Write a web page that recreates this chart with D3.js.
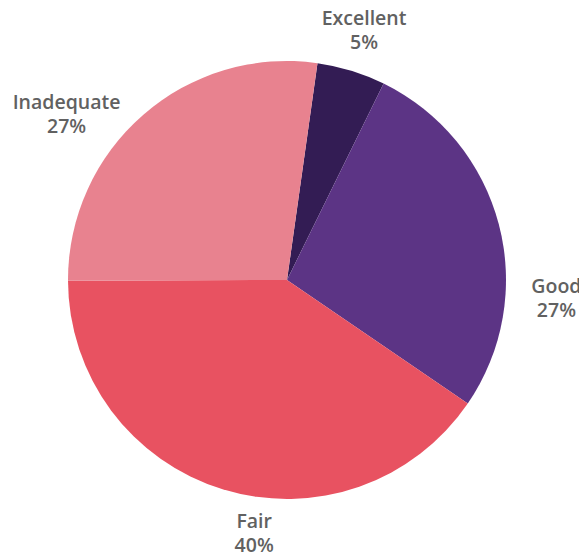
<!DOCTYPE html>
<html><head><meta charset="utf-8">
<script src="https://cdn.jsdelivr.net/npm/d3@7"></script>
<style>body{margin:0;background:#fff}svg{display:block}</style>
</head><body>
<svg id="chart" width="579" height="557"></svg>
<script>
const categories = ["Excellent", "Good", "Fair", "Inadequate"];
const values = [5, 27, 40, 27];
const colors = ["#331c54", "#5c3485", "#e85261", "#e8828f"];
const labelTexts = ["5%", "27%", "40%", "27%"];
// label placement (degrees clockwise from top, radius in px)
const labelAngles = [17.1, 93.8, 187.4, 307];
const labelRadii = [262, 270, 255, 276];

const svg = d3.select("#chart");
const cx = 287, cy = 280, R = 219;
const g = svg.append("g").attr("transform", `translate(${cx},${cy})`);
const startA = 8 * Math.PI / 180;
const pie = d3.pie().sort(null).value(d => d.v).startAngle(startA).endAngle(startA + 2 * Math.PI);
const data = categories.map((c, i) => ({c, v: values[i], i}));
const arc = d3.arc().innerRadius(0).outerRadius(R);
g.selectAll("path").data(pie(data)).enter().append("path")
  .attr("d", arc).attr("fill", d => colors[d.data.i]);

const lab = g.selectAll("g.lab").data(data).enter().append("g").attr("class", "lab")
  .attr("transform", (d, i) => {
    const a = labelAngles[i] * Math.PI / 180, r = labelRadii[i];
    return `translate(${r * Math.sin(a)},${-r * Math.cos(a)})`;
  });
const t = lab.append("text").attr("text-anchor", "middle")
  .style("font-family", "'Open Sans', sans-serif").style("font-weight", 600)
  .style("font-size", "19.5px").attr("fill", "#616161");
t.append("tspan").attr("x", 0).attr("y", -5).text(d => d.c);
t.append("tspan").attr("x", 0).attr("y", 19).text((d, i) => labelTexts[i]);
</script>
</body></html>
